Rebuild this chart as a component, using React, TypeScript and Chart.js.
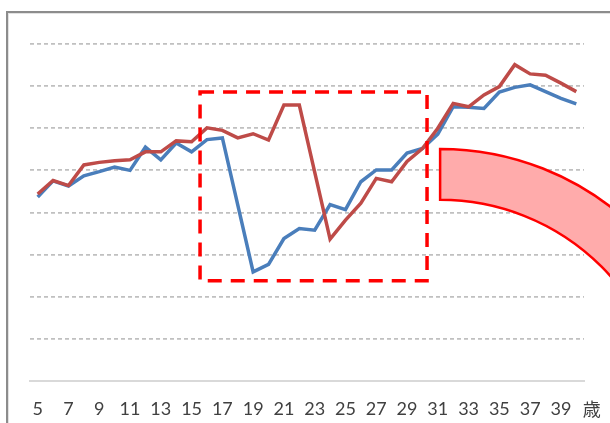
import React, { useEffect, useRef } from "react";
import { Chart, registerables } from "chart.js";

Chart.register(...registerables);

// ---- data ----
const ages = [
  "5", "6", "7", "8", "9", "10", "11", "12", "13", "14", "15", "16",
  "17", "18", "19", "20", "21", "22", "23", "24", "25", "26", "27", "28",
  "29", "30", "31", "32", "33", "34", "35", "36", "37", "38", "39", "40",
];
const blueValues = [
  43.7, 47.5, 46.3, 48.7, 49.7, 50.8, 50.0, 55.5, 52.5, 56.5, 54.4, 57.3,
  57.7, 41.8, 25.9, 27.7, 33.8, 36.2, 35.8, 41.9, 40.7, 47.3, 50.1, 50.1,
  54.1, 55.2, 58.6, 65.1, 65.0, 64.7, 68.6, 69.7, 70.3, 68.7, 67.1, 65.8,
];
const redValues = [
  44.4, 47.6, 46.4, 51.3, 51.9, 52.3, 52.5, 54.4, 54.4, 57.0, 56.8, 60.1,
  59.5, 57.7, 58.7, 57.2, 65.5, 65.5, 49.6, 33.7, 38.2, 42.2, 48.1, 47.3,
  52.1, 55.2, 60.0, 65.9, 65.1, 67.9, 69.9, 75.1, 72.9, 72.6, 70.7, 68.7,
];
const unitLabel = "歳";
const yMin = 0;
const yMax = 80;
const yStep = 10;
const labelEvery = 2;

// annotation: highlighted period (ages and values in data units)
const boxAgeFrom = 15.55;
const boxAgeTo = 30.3;
const boxValueTop = 68.6;
const boxValueBottom = 23.8;

// annotation: curved arrow band (data units)
const arcCenterAge = 31.15;
const arcCenterValue = -11.2;
const arcOuterTopValue = 55.1;
const arcInnerTopValue = 43.0;

const BLUE = "#4a7ebb";
const RED = "#be4b48";
const FONT = "Lato, 'Open Sans', sans-serif";
const FONT_SIZE = 18;
const TICK_PAD = 17;
const LINE_H = 1.2;
const X_AXIS_HEIGHT = 39;

const annotationPlugin = {
  id: "annotations",
  afterDatasetsDraw(chart: any) {
    const { ctx, scales } = chart;
    const x = scales.x;
    const y = scales.y;
    const first = Number(ages[0]);
    const px = (age: number) => x.getPixelForValue(age - first);

    // dashed red rectangle
    ctx.save();
    ctx.strokeStyle = "#ff0000";
    ctx.lineWidth = 3.5;
    ctx.setLineDash([14, 9]);
    const left = px(boxAgeFrom);
    const right = px(boxAgeTo);
    const top = y.getPixelForValue(boxValueTop);
    const bottom = y.getPixelForValue(boxValueBottom);
    ctx.strokeRect(left, top, right - left, bottom - top);
    ctx.restore();
  },
  afterDraw(chart: any) {
    const { ctx, scales } = chart;
    const x = scales.x;
    const y = scales.y;
    const first = Number(ages[0]);
    const px = (age: number) => x.getPixelForValue(age - first);

    // curved band
    const cx = px(arcCenterAge);
    const cy = y.getPixelForValue(arcCenterValue);
    const R = cy - y.getPixelForValue(arcOuterTopValue);
    const r = cy - y.getPixelForValue(arcInnerTopValue);
    ctx.save();
    ctx.beginPath();
    ctx.moveTo(cx, cy - R);
    ctx.arc(cx, cy, R, -Math.PI / 2, 0, false);
    ctx.lineTo(cx + r, cy);
    ctx.arc(cx, cy, r, 0, -Math.PI / 2, true);
    ctx.closePath();
    ctx.fillStyle = "#ffabab";
    ctx.fill();
    ctx.strokeStyle = "#ff0000";
    ctx.lineWidth = 2.5;
    ctx.stroke();
    ctx.restore();

    // unit label after the last tick label
    const lastIdx = ages.length - 1;
    const unitX = x.getPixelForValue(lastIdx + 1.0);
    ctx.save();
    ctx.fillStyle = "#404040";
    ctx.font = `${FONT_SIZE}px 'Noto Sans CJK JP', sans-serif`;
    ctx.textAlign = "center";
    ctx.textBaseline = "middle";
    ctx.fillText(unitLabel, unitX, x.top + TICK_PAD + (FONT_SIZE * LINE_H) / 2);
    ctx.restore();
  },
};

export default function App() {
  const canvasRef = useRef<HTMLCanvasElement | null>(null);

  useEffect(() => {
    const canvas = canvasRef.current;
    if (!canvas) return;
    const chart = new Chart(canvas, {
      type: "line",
      data: {
        labels: ages,
        datasets: [
          {
            label: "red",
            data: redValues,
            borderColor: RED,
            borderWidth: 3.5,
            pointRadius: 0,
            tension: 0,
            fill: false,
          },
          {
            label: "blue",
            data: blueValues,
            borderColor: BLUE,
            borderWidth: 3.5,
            pointRadius: 0,
            tension: 0,
            fill: false,
          },
        ],
      },
      options: {
        animation: false,
        responsive: false,
        maintainAspectRatio: false,
        events: [],
        layout: { padding: { left: 30, right: 26, top: 44, bottom: 3 } },
        plugins: {
          legend: { display: false },
          tooltip: { enabled: false },
          title: { display: false },
        },
        scales: {
          x: {
            type: "category",
            offset: true,
            afterFit: (scale: any) => {
              scale.height = X_AXIS_HEIGHT;
            },
            grid: { display: false, drawTicks: false },
            border: { display: true, color: "#d9d9d9", width: 2 },
            ticks: {
              autoSkip: false,
              maxRotation: 0,
              minRotation: 0,
              padding: TICK_PAD,
              color: "#404040",
              font: { family: FONT, size: FONT_SIZE, lineHeight: LINE_H },
              callback: (_v: any, i: number) =>
                i % labelEvery === 0 ? ages[i] : "",
            },
          },
          y: {
            min: yMin,
            max: yMax,
            grid: {
              drawTicks: false,
              lineWidth: 1.8,
              color: (c: any) =>
                c.tick && c.tick.value === yMin ? "rgba(0,0,0,0)" : "#c0c0c0",
            },
            border: { display: false, dash: [4, 3] },
            ticks: { display: false, stepSize: yStep },
          },
        },
      },
      plugins: [annotationPlugin],
    });
    return () => chart.destroy();
  }, []);

  return (
    <div
      style={{
        position: "fixed",
        left: 0,
        top: 0,
        width: 610,
        height: 423,
        background: "#ffffff",
        overflow: "hidden",
      }}
    >
      <div
        style={{
          position: "absolute",
          left: 6,
          top: 11,
          width: 640,
          height: 440,
          borderTop: "2px solid #8c8c8c",
          borderLeft: "2px solid #8c8c8c",
          boxShadow: "inset 1px 1px 0 #e2e2e2",
        }}
      />
      <canvas
        ref={canvasRef}
        width={610}
        height={423}
        style={{ position: "absolute", left: 0, top: 0 }}
      />
    </div>
  );
}
